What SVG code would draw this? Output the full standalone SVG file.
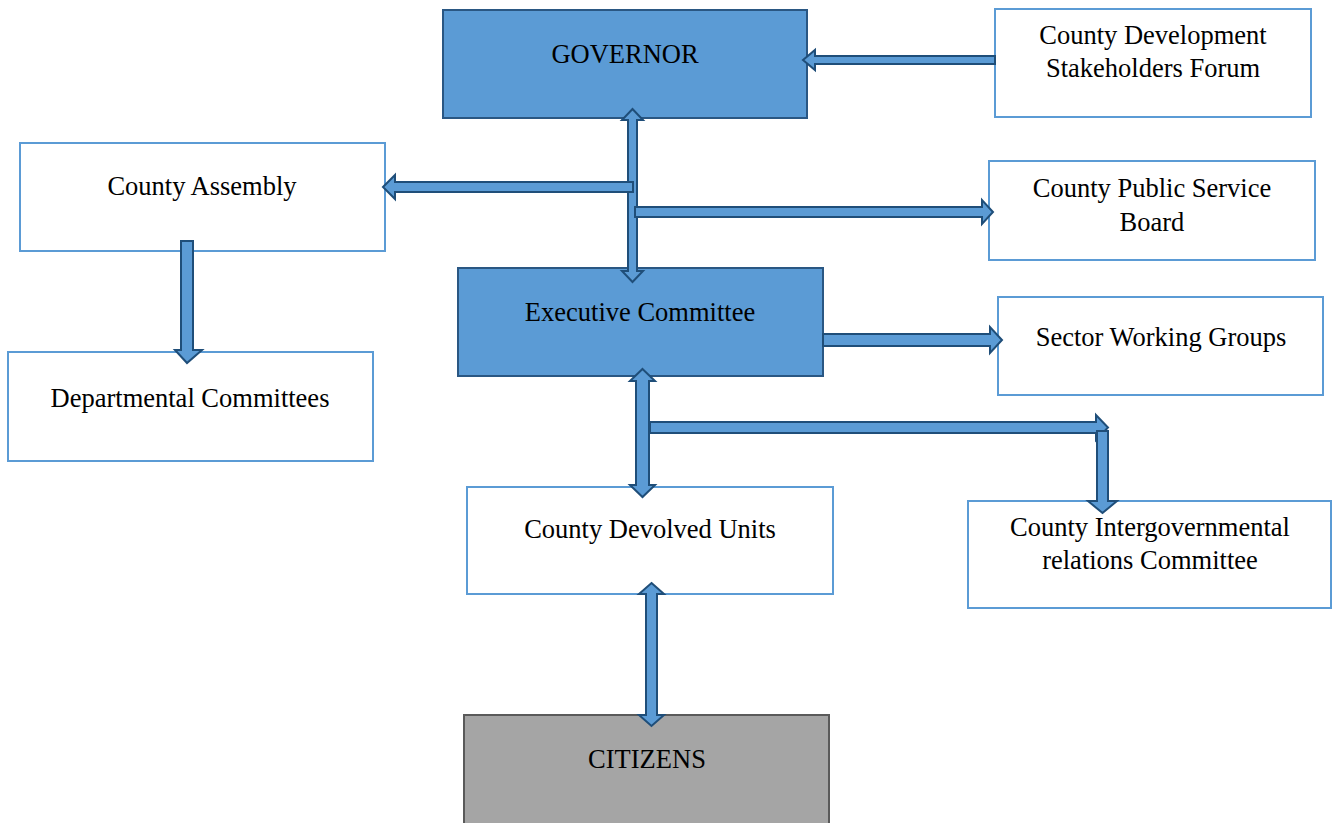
<svg xmlns="http://www.w3.org/2000/svg" width="1332" height="823" viewBox="0 0 1332 823">
<style>
.box{fill:#ffffff;stroke:#5b9bd5;stroke-width:2}
.blue{fill:#5b9bd5;stroke:#2a5783;stroke-width:2}
.grey{fill:#a5a5a5;stroke:#5a5a5a;stroke-width:2}
.t{font-family:"Liberation Serif","Times New Roman",serif;font-size:26.5px;fill:#000;text-anchor:middle}
.arr{fill:#5b9bd5;stroke:#1f4e79;stroke-width:2;stroke-linejoin:miter}
</style>
<rect width="1332" height="823" fill="#ffffff"/>
<g id="governor"><rect class="blue" x="443" y="10" width="364" height="108"/><text class="t" x="625" y="63">GOVERNOR</text></g>
<g id="forum"><rect class="box" x="995" y="9" width="316" height="108"/><text class="t" x="1153" y="44">County Development</text><text class="t" x="1153" y="77">Stakeholders Forum</text></g>
<g id="assembly"><rect class="box" x="20" y="143" width="365" height="108"/><text class="t" x="202" y="195">County Assembly</text></g>
<g id="psb"><rect class="box" x="989" y="161" width="326" height="99"/><text class="t" x="1152" y="197">County Public Service</text><text class="t" x="1152" y="231">Board</text></g>
<g id="executive"><rect class="blue" x="458" y="268" width="365" height="108"/><text class="t" x="640" y="321">Executive Committee</text></g>
<g id="swg"><rect class="box" x="998" y="297" width="325" height="98"/><text class="t" x="1161" y="346">Sector Working Groups</text></g>
<g id="departmental"><rect class="box" x="8" y="352" width="365" height="109"/><text class="t" x="190" y="407">Departmental Committees</text></g>
<g id="devolved"><rect class="box" x="467" y="487" width="366" height="107"/><text class="t" x="650" y="538">County Devolved Units</text></g>
<g id="igr"><rect class="box" x="968" y="501" width="363" height="107"/><text class="t" x="1150" y="536">County Intergovernmental</text><text class="t" x="1150" y="569">relations Committee</text></g>
<g id="citizens"><rect class="grey" x="464" y="715" width="365" height="112"/><text class="t" x="647" y="768">CITIZENS</text></g>
<g id="connectors">
<polygon class="arr" points="995,56 815,56 815,50 803,60 815,70 815,64 995,64"/>
<polygon class="arr" points="632.5,109 643,120 637,120 637,271 643,271 632.5,282 622,271 628,271 628,120 622,120"/>
<polygon class="arr" points="383,187 395,175 395,182 633,182 633,192 395,192 395,199"/>
<polygon class="arr" points="635,207 982,207 982,200 993,212 982,224 982,217 635,217"/>
<polygon class="arr" points="823,334 990,334 990,327 1002,340 990,353 990,346 823,346"/>
<polygon class="arr" points="642.5,369 655,381 649,381 649,485 655,485 642.5,497 630,485 636,485 636,381 630,381"/>
<polygon class="arr" points="650,422 1096,422 1096,415 1108,427.5 1096,440 1096,433 650,433"/>
<polygon class="arr" points="1097,431 1108,431 1108,501 1117,501 1102.5,513 1088,501 1097,501"/>
<polygon class="arr" points="651.5,583 664,594 657,594 657,715 664,715 651.5,726 639,715 646,715 646,594 639,594"/>
<polygon class="arr" points="181,241 193,241 193,350 202,350 187,363 175,350 181,350"/>
</g>
</svg>
